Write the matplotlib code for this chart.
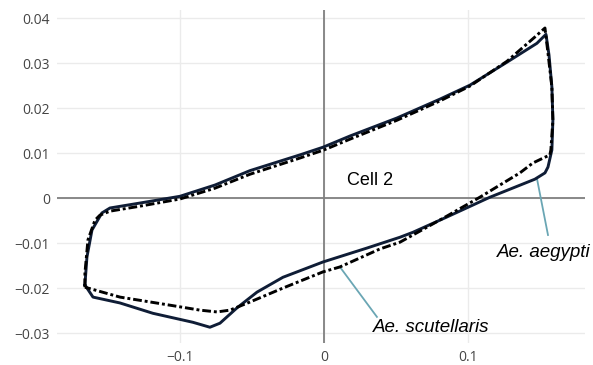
import matplotlib
matplotlib.use("Agg")
import matplotlib.pyplot as plt

# Ae. aegypti (solid) loop
aeg_x = [-0.166, -0.1646, -0.1611, -0.1542, -0.1486, -0.1278, -0.1, -0.0757, -0.0514, -0.0167,
         -0.0007, 0.0181, 0.0507, 0.0806, 0.1014, 0.1271, 0.1479, 0.1542, 0.1563, 0.1583,
         0.159, 0.1583, 0.1556, 0.1535, 0.1465, 0.1153, 0.0854, 0.0618, 0.0528, 0.0299,
         -0.0007, -0.0285, -0.0465, -0.0604, -0.0722, -0.0792, -0.091, -0.1188, -0.1417, -0.1604,
         -0.166]
aeg_y = [-0.0193, -0.0131, -0.0071, -0.0033, -0.0022, -0.0011, 0.0004, 0.0029, 0.0061, 0.0096,
         0.0113, 0.0138, 0.0178, 0.022, 0.0251, 0.0302, 0.0344, 0.0364, 0.0318, 0.0247,
         0.0173, 0.0107, 0.0069, 0.0056, 0.0042, 0.0002, -0.0042, -0.0076, -0.0087, -0.0111,
         -0.0142, -0.0176, -0.0209, -0.0244, -0.0278, -0.0287, -0.0276, -0.0256, -0.0233, -0.022,
         -0.0193]

# Ae. scutellaris (dash-dot) loop
scu_x = [-0.166, -0.166, -0.1639, -0.159, -0.1556, -0.1486, -0.1278, -0.1, -0.0757, -0.0514,
         -0.0167, 0.0, 0.0181, 0.0507, 0.0806, 0.1014, 0.1271, 0.1465, 0.1535, 0.1556,
         0.1583, 0.159, 0.1576, 0.1569, 0.1451, 0.1361, 0.1083, 0.0854, 0.0528, 0.0389,
         0.0111, -0.0007, -0.0285, -0.0514, -0.0653, -0.0743, -0.0861, -0.1069, -0.1417, -0.166]
scu_y = [-0.0198, -0.0167, -0.0093, -0.0049, -0.0038, -0.0029, -0.0018, -0.0002, 0.0022, 0.0053,
         0.0089, 0.0107, 0.0131, 0.0173, 0.0216, 0.0249, 0.0304, 0.0358, 0.0378, 0.0322,
         0.0247, 0.0173, 0.0107, 0.0096, 0.0078, 0.0056, 0.0002, -0.004, -0.0098, -0.0113,
         -0.0153, -0.0164, -0.02, -0.0231, -0.0249, -0.0253, -0.0249, -0.0238, -0.022, -0.0198]

x_ticks = [-0.1, 0, 0.1]
x_labels = ["\u22120.1", "0", "0.1"]
y_ticks = [-0.03, -0.02, -0.01, 0, 0.01, 0.02, 0.03, 0.04]
y_labels = ["\u22120.03", "\u22120.02", "\u22120.01", "0", "0.01", "0.02", "0.03", "0.04"]

teal = "#6aa6b4"

fig = plt.figure(figsize=(5.93, 3.65), dpi=100, facecolor="white")
ax = fig.add_axes([0.0961, 0.0603, 0.8904, 0.9123])
ax.set_xlim(-0.1854, 0.1813)
ax.set_ylim(-0.0322, 0.0418)

for s in ax.spines.values():
    s.set_visible(False)
ax.set_xticks(x_ticks)
ax.set_xticklabels(x_labels)
ax.set_yticks(y_ticks)
ax.set_yticklabels(y_labels)
ax.tick_params(length=0, labelsize=10, labelcolor="#444444", pad=5)
for lab in ax.get_xticklabels() + ax.get_yticklabels():
    lab.set_fontfamily("Open Sans")
ax.grid(True, color="#ebebeb", linewidth=1)
ax.set_axisbelow(True)
ax.axhline(0, color="#808080", linewidth=1.3, zorder=1)
ax.axvline(0, color="#808080", linewidth=1.3, zorder=1)

ax.plot(aeg_x, aeg_y, color="#0f1d36", linewidth=2.1, solid_joinstyle="round", zorder=3)
ax.plot(scu_x, scu_y, color="black", linewidth=2.1, linestyle=(0, (3, 1, 1, 1)), zorder=4)

# leader lines + labels
ax.plot([0.1479, 0.1556], [0.0044, -0.0082], color=teal, linewidth=1.3, zorder=2)
ax.plot([0.0111, 0.0368], [-0.0153, -0.0264], color=teal, linewidth=1.3, zorder=2)
ax.text(0.1201, -0.012, "Ae. aegypti", fontsize=13.5, style="italic",
        family="Liberation Sans", va="center", ha="left", clip_on=False)
ax.text(0.034, -0.0287, "Ae. scutellaris", fontsize=13.5, style="italic",
        family="Liberation Sans", va="center", ha="left", clip_on=False)
ax.text(0.016, 0.004, "Cell 2", fontsize=13, family="Liberation Sans",
        va="center", ha="left")

fig.savefig("out.png", dpi=100)
